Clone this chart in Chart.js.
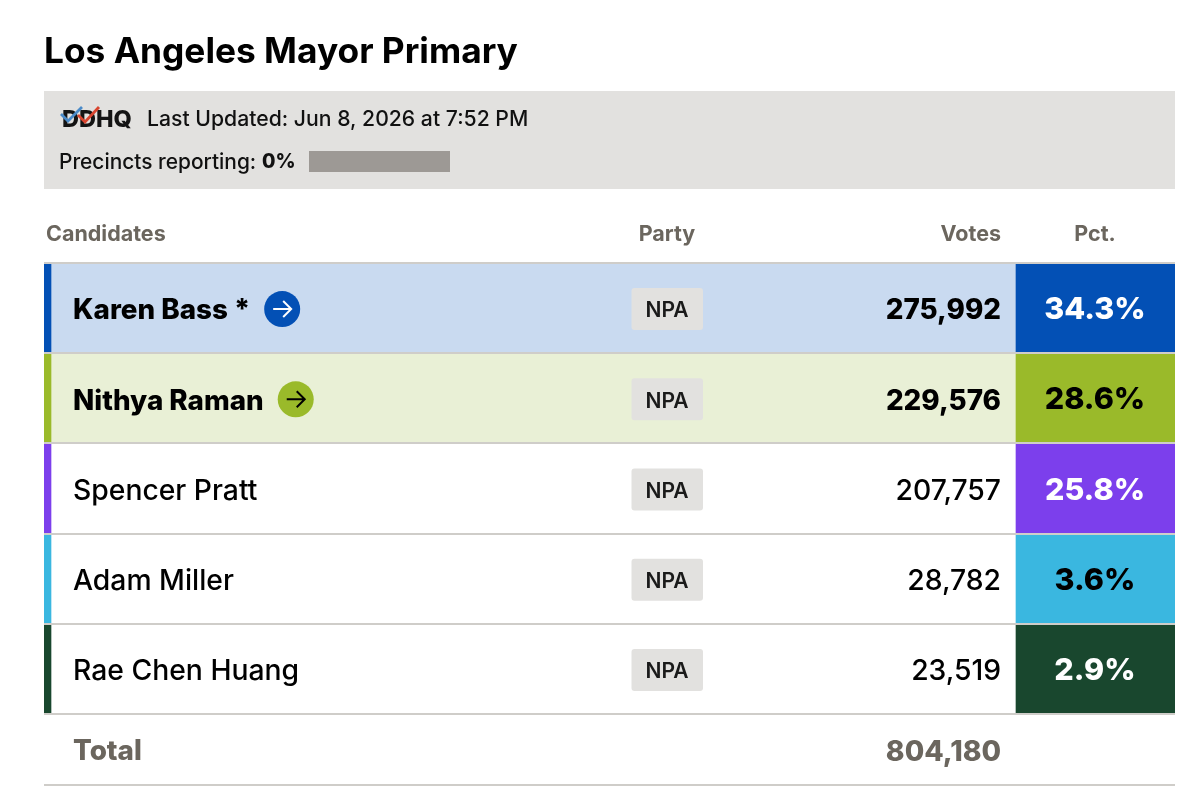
<!DOCTYPE html>
<html><head><meta charset="utf-8">
<style>html,body{margin:0;padding:0;background:#fff}#w{width:1200px;height:788px;position:relative}</style>
<script src="https://cdn.jsdelivr.net/npm/chart.js@4"></script>
</head><body><div id="w"><canvas id="c" width="1200" height="788"></canvas></div>
<script>
const titleText = 'Los Angeles Mayor Primary';
const updatedText = 'Last Updated: Jun 8, 2026 at 7:52 PM';
const logoText = 'DDHQ';
const precinctsLabel = 'Precincts reporting: ';
const precinctsValue = '0%';
const columnHeaders = ['Candidates', 'Party', 'Votes', 'Pct.'];
const candidates = ['Karen Bass *', 'Nithya Raman', 'Spencer Pratt', 'Adam Miller', 'Rae Chen Huang'];
const parties = ['NPA', 'NPA', 'NPA', 'NPA', 'NPA'];
const votes = [275992, 229576, 207757, 28782, 23519];
const pcts = [34.3, 28.6, 25.8, 3.6, 2.9];
const leaders = [true, true, false, false, false];
const totalLabel = 'Total';
const totalVotes = 804180;

const partyColors = ['#0350b5', '#9aba2a', '#7c3fec', '#3ab7e0', '#19472e'];
const rowColors = ['#c9daf0', '#e9f0d6', '#ffffff', '#ffffff', '#ffffff'];
const pctTextColors = ['#ffffff', '#000000', '#ffffff', '#000000', '#ffffff'];

// Table columns in px from the table's left edge
const TABLE_W = 1131, STRIP_W = 7, PCT_L = 972, PARTY_C = 623, VOTES_R = 957, PCT_C = 1051;
const FF = 'Inter, "Noto Sans", sans-serif';
const GREY = '#6b665e', RULE = '#cfcdc9';

function txt(ctx, s, x, y, font, color, align) {
  ctx.font = font; ctx.fillStyle = color; ctx.textAlign = align || 'left';
  ctx.textBaseline = 'middle'; ctx.fillText(s, x, y);
}

const tablePlugin = {
  id: 'tablePlugin',
  beforeDatasetsDraw(chart) {
    const ctx = chart.ctx, X = chart.scales.x;
    ctx.save();
    const L = X.getPixelForValue(0), R = X.getPixelForValue(TABLE_W);
    ctx.fillStyle = '#e2e1df'; ctx.fillRect(L, 91, R - L, 98);
    ctx.fillStyle = '#9d9995'; ctx.fillRect(309, 151, 141, 21);
    ctx.restore();
  },
  afterDraw(chart) {
    const ctx = chart.ctx, X = chart.scales.x, Y = chart.scales.y;
    ctx.save();
    // logo
    txt(ctx, logoText, 62, 120, '800 23.5px ' + FF, '#141414');
    ctx.lineWidth = 2.8; ctx.lineJoin = 'miter';
    ctx.strokeStyle = '#4a8ac8';
    ctx.beginPath(); ctx.moveTo(61, 114); ctx.lineTo(68, 121); ctx.lineTo(82, 107); ctx.stroke();
    ctx.strokeStyle = '#d8452f';
    ctx.beginPath(); ctx.moveTo(78, 115); ctx.lineTo(85, 122); ctx.lineTo(99, 107); ctx.stroke();
    // box text
    txt(ctx, updatedText, 147, 120, '500 21.2px ' + FF, '#111111');
    txt(ctx, precinctsLabel, 59, 162.5, '500 20.9px ' + FF, '#111111');
    txt(ctx, precinctsValue, 262, 162.5, '800 19.5px ' + FF, '#111111');
    // headers
    const hf = '700 21.5px ' + FF;
    txt(ctx, columnHeaders[0], X.getPixelForValue(2), 235, hf, GREY);
    txt(ctx, columnHeaders[1], X.getPixelForValue(PARTY_C), 235, hf, GREY, 'center');
    txt(ctx, columnHeaders[2], X.getPixelForValue(VOTES_R), 235, hf, GREY, 'right');
    txt(ctx, columnHeaders[3], X.getPixelForValue(PCT_C), 235, hf, GREY, 'center');
    // rows
    candidates.forEach((name, i) => {
      const yc = Y.getPixelForValue(i);
      const y = yc + 1;
      const cx = X.getPixelForValue(PARTY_C);
      ctx.fillStyle = '#e2e1df';
      ctx.beginPath(); ctx.roundRect(cx - 35.5, y - 21, 71.5, 42, 3); ctx.fill();
      txt(ctx, parties[i], cx, yc + 3, '600 21px ' + FF, '#1a1a1a', 'center');
      txt(ctx, votes[i].toLocaleString('en-US'), X.getPixelForValue(VOTES_R), yc + 3,
          (leaders[i] ? '800 27.8px ' : '500 28.3px ') + FF, '#000000', 'right');
      txt(ctx, pcts[i].toFixed(1) + '%', X.getPixelForValue(PCT_C), yc + 2, '800 30.5px ' + FF, pctTextColors[i], 'center');
      if (leaders[i]) {
        ctx.font = '800 27.8px ' + FF;
        const r = 18, ax = 73 + ctx.measureText(name).width + 14 + r;
        ctx.fillStyle = partyColors[i];
        ctx.beginPath(); ctx.arc(ax, y, r, 0, Math.PI * 2); ctx.fill();
        ctx.strokeStyle = pctTextColors[i]; ctx.lineWidth = 2;
        ctx.beginPath(); ctx.moveTo(ax - 9, y); ctx.lineTo(ax + 8, y);
        ctx.moveTo(ax + 1, y - 8); ctx.lineTo(ax + 9, y); ctx.lineTo(ax + 1, y + 8); ctx.stroke();
      }
    });
    // total row
    txt(ctx, totalLabel, 73, 752, '800 27.8px ' + FF, GREY);
    txt(ctx, totalVotes.toLocaleString('en-US'), X.getPixelForValue(VOTES_R), 752, '800 28.3px ' + FF, GREY, 'right');
    const x0 = X.getPixelForValue(0);
    ctx.fillStyle = RULE; ctx.fillRect(x0, 784, X.getPixelForValue(TABLE_W) - x0, 2);
    ctx.restore();
  }
};

new Chart(document.getElementById('c'), {
  type: 'bar',
  data: {
    labels: candidates,
    datasets: [
      { label: 'row', data: candidates.map(() => [0, TABLE_W]), backgroundColor: rowColors, grouped: false, order: 3 },
      { label: 'pct', data: pcts.map(() => [PCT_L, TABLE_W]), backgroundColor: partyColors, grouped: false, order: 2 },
      { label: 'strip', data: candidates.map(() => [0, STRIP_W]), backgroundColor: partyColors, grouped: false, order: 1 }
    ]
  },
  plugins: [tablePlugin],
  options: {
    indexAxis: 'y',
    responsive: false,
    animation: false,
    devicePixelRatio: 1,
    layout: { padding: { left: 44, right: 25, top: 0, bottom: 74 } },
    datasets: { bar: { barPercentage: 1, categoryPercentage: 1 } },
    plugins: {
      legend: { display: false },
      tooltip: { enabled: false },
      title: {
        display: true, text: titleText, align: 'start', color: '#000000',
        font: { family: FF, size: 35.3, weight: '700', lineHeight: 1.2 },
        padding: { top: 31, bottom: 189.6 }
      }
    },
    scales: {
      x: { type: 'linear', display: false, min: 0, max: TABLE_W },
      y: {
        type: 'category',
        afterFit: (s) => { s.width = 0; },
        border: { display: false },
        grid: { color: RULE, lineWidth: 2, drawTicks: false, z: 1, offset: true },
        ticks: {
          mirror: true, padding: 29, z: 2, color: '#000000', labelOffset: 3,
          font: (c) => leaders[c.index]
            ? { family: FF, size: 27.8, weight: '800' }
            : { family: FF, size: 28.3, weight: '500' }
        }
      }
    }
  }
});
</script></body></html>
